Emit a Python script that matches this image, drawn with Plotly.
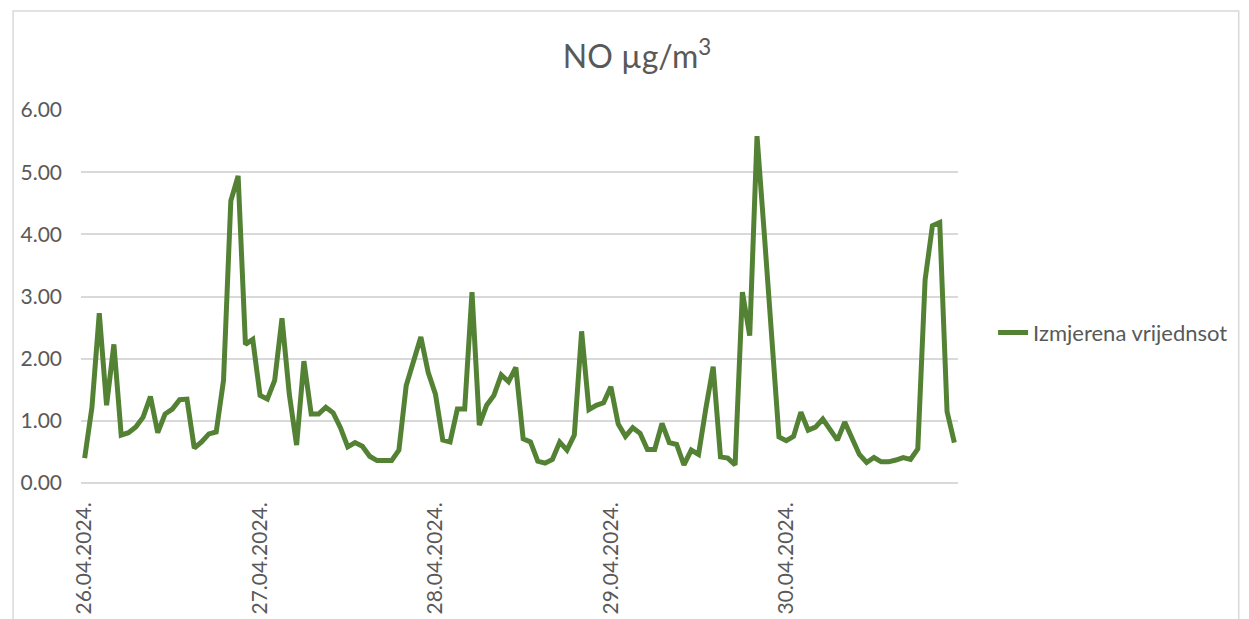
import plotly.graph_objects as go

# hourly NO concentrations, one list per day
days = ["26.04.2024.", "27.04.2024.", "28.04.2024.", "29.04.2024.", "30.04.2024."]

day_26 = [0.40, 1.22, 2.73, 1.25, 2.23, 0.77, 0.81, 0.90, 1.06, 1.39, 0.81, 1.11,
          1.19, 1.34, 1.35, 0.56, 0.66, 0.79, 0.82, 1.65, 4.54, 4.94, 2.23, 2.31]
day_27 = [1.41, 1.35, 1.65, 2.65, 1.43, 0.61, 1.96, 1.11, 1.11, 1.22, 1.13, 0.89,
          0.58, 0.65, 0.59, 0.43, 0.36, 0.36, 0.36, 0.53, 1.57, 1.96, 2.35, 1.78]
day_28 = [1.43, 0.69, 0.66, 1.19, 1.19, 3.07, 0.93, 1.25, 1.41, 1.74, 1.63, 1.86,
          0.71, 0.66, 0.35, 0.32, 0.38, 0.66, 0.53, 0.77, 2.44, 1.18, 1.25, 1.29]
day_29 = [1.55, 0.95, 0.75, 0.89, 0.80, 0.54, 0.54, 0.96, 0.65, 0.62, 0.29, 0.53,
          0.46, 1.20, 1.87, 0.42, 0.40, 0.29, 3.07, 2.37, 5.58, 4.00, 2.40, 0.74]
day_30 = [0.68, 0.75, 1.14, 0.85, 0.90, 1.03, 0.86, 0.69, 0.98, 0.73, 0.46, 0.33,
          0.41, 0.34, 0.34, 0.37, 0.41, 0.38, 0.55, 3.27, 4.14, 4.19, 1.15, 0.65]

series = [day_26, day_27, day_28, day_29, day_30]

x = []
y = []
for day, vals in zip(days, series):
    for h, v in enumerate(vals):
        x.append(f"{day} {h:02d}:00")
        y.append(v)

tick_vals = [f"{d} 00:00" for d in days]

text_col = "#595959"
grid_col = "#d9d9d9"
font_name = "Lato"

fig = go.Figure()

fig.add_trace(
    go.Scatter(
        x=x,
        y=y,
        mode="lines",
        name="Izmjerena vrijednsot",
        line=dict(color="#548235", width=5, shape="linear"),
    )
)

fig.update_layout(
    width=1249,
    height=619,
    margin=dict(l=69, r=299, t=102, b=140),
    paper_bgcolor="white",
    plot_bgcolor="white",
    font=dict(family=font_name, color=text_col, size=21),
    title=dict(
        text="NO µg/m<sup>3</sup>",
        x=0.5036,
        xref="container",
        xanchor="center",
        y=0.921,
        yref="container",
        yanchor="middle",
        font=dict(family=font_name, size=32, color=text_col),
    ),
    showlegend=True,
    legend=dict(
        x=1.04,
        y=0.403,
        xanchor="left",
        yanchor="middle",
        font=dict(family=font_name, size=22, color=text_col),
        bgcolor="rgba(0,0,0,0)",
    ),
)

fig.update_xaxes(
    type="category",
    range=[-0.5, len(x) - 0.5],
    tickmode="array",
    tickvals=tick_vals,
    ticktext=days,
    tickangle=-90,
    showgrid=False,
    showline=False,
    ticks="",
    ticklabelstandoff=14,
    tickfont=dict(size=21, color=text_col),
)

fig.update_yaxes(
    range=[0, 6.001],
    tickvals=[0, 1, 2, 3, 4, 5, 6],
    tickformat=".2f",
    showgrid=True,
    gridcolor=grid_col,
    gridwidth=1.5,
    zeroline=True,
    zerolinecolor=grid_col,
    zerolinewidth=1.5,
    showline=False,
    ticks="",
    ticklabelstandoff=18,
    tickfont=dict(size=21, color=text_col),
)

# chart frame
fig.add_shape(
    type="rect",
    xref="paper",
    yref="paper",
    x0=(0.75 - 69) / 881,
    x1=(1232 - 69) / 881,
    y0=-0.6,
    y1=(479 - 2) / 377,
    line=dict(color=grid_col, width=1.5),
    layer="below",
)

fig.write_html("out.html")
